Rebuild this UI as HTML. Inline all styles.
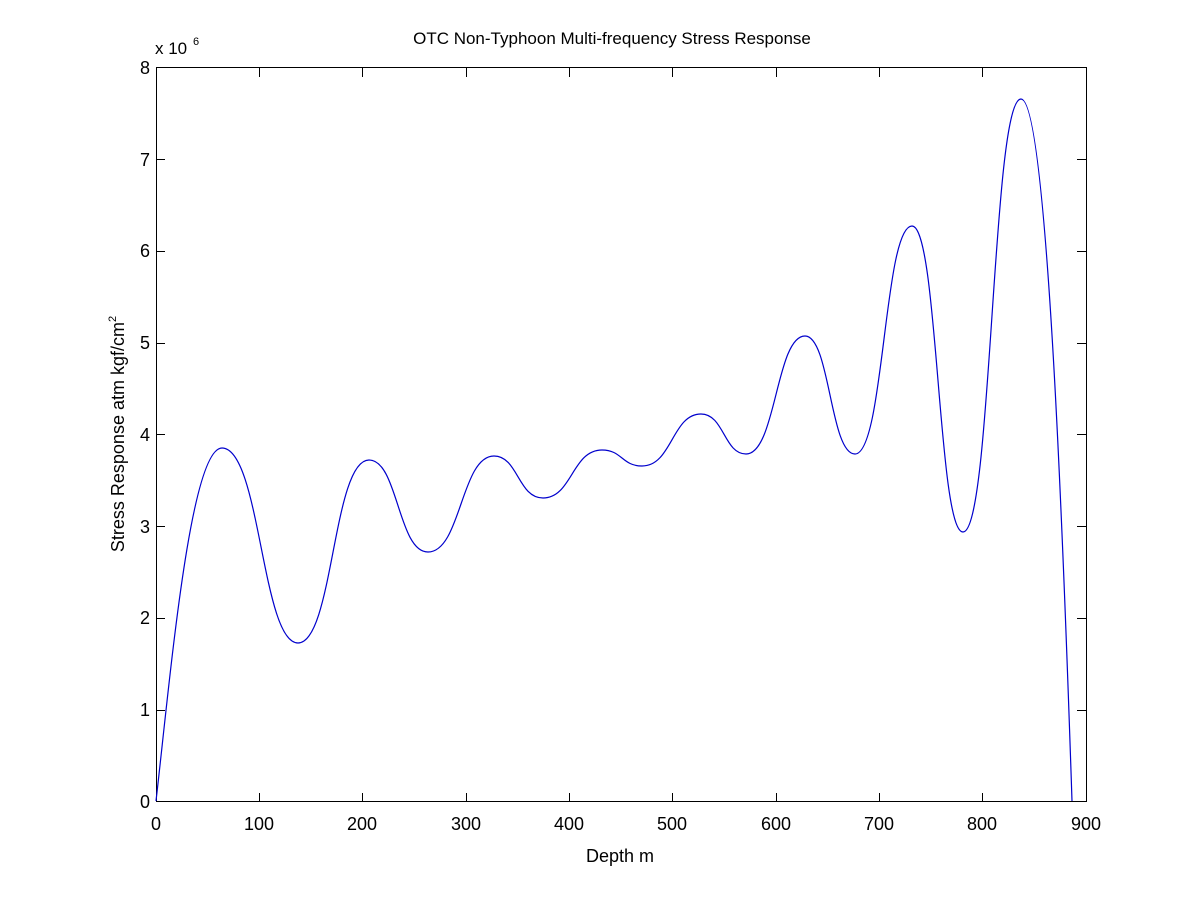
<!DOCTYPE html>
<html><head><meta charset="utf-8"><style>
html,body{margin:0;padding:0;background:#fff;}
svg text{font-family:"Liberation Sans",sans-serif;fill:#000;}
</style></head><body>
<svg width="1200" height="901" xmlns="http://www.w3.org/2000/svg">
<rect width="1200" height="901" fill="#fff"/>
<g stroke="#000" stroke-width="1" fill="none">
<rect x="156.5" y="67.5" width="930" height="734"/>
</g>
<g stroke="#000" stroke-width="1">
<path d="M259.5,802v-9M259.5,68v9 M362.5,802v-9M362.5,68v9 M466.5,802v-9M466.5,68v9 M569.5,802v-9M569.5,68v9 M672.5,802v-9M672.5,68v9 M776.5,802v-9M776.5,68v9 M879.5,802v-9M879.5,68v9 M982.5,802v-9M982.5,68v9"/>
<path d="M156,710.5h9M1086,710.5h-9 M156,618.5h9M1086,618.5h-9 M156,526.5h9M1086,526.5h-9 M156,434.5h9M1086,434.5h-9 M156,343.5h9M1086,343.5h-9 M156,251.5h9M1086,251.5h-9 M156,159.5h9M1086,159.5h-9"/>
</g>
<g font-size="18" text-anchor="middle">
<text x="156" y="830">0</text><text x="259" y="830">100</text><text x="362" y="830">200</text><text x="466" y="830">300</text><text x="569" y="830">400</text><text x="672" y="830">500</text><text x="776" y="830">600</text><text x="879" y="830">700</text><text x="982" y="830">800</text><text x="1086" y="830">900</text>
</g>
<g font-size="18" text-anchor="end">
<text x="150" y="808">0</text><text x="150" y="716">1</text><text x="150" y="624">2</text><text x="150" y="533">3</text><text x="150" y="441">4</text><text x="150" y="349">5</text><text x="150" y="257">6</text><text x="150" y="166">7</text><text x="150" y="74">8</text>
</g>
<text x="155" y="54" font-size="17">x 10</text><text x="193" y="45" font-size="11">6</text>
<text x="612" y="44" font-size="17" text-anchor="middle">OTC Non-Typhoon Multi-frequency Stress Response</text>
<text x="620" y="862" font-size="18" text-anchor="middle">Depth m</text>
<text transform="translate(124,434) rotate(-90)" font-size="18" text-anchor="middle">Stress Response atm kgf/cm<tspan font-size="11" dy="-8">2</tspan></text>
<path fill="none" stroke="#0000cc" stroke-width="1.2" d="M156,801 C170,680 190,448 222,448 C260,448 262,643 298,643 C333,643 333,460 369,460 C398,460 398,552 428,552 C461,552 461,456 494,456 C518,456 518,498 543,498 C572,498 572,450 602,450 C622,450 622,466 642,466 C672,466 672,414 701,414 C724,414 724,454 746,454 C776,454 776,336 805,336 C830,336 830,454 855,454 C884,454 884,226 912,226 C938,226 938,532 963,532 C992,532 992,99 1021,99 C1046,99 1062,500 1072,801"/>
</svg>
</body></html>
